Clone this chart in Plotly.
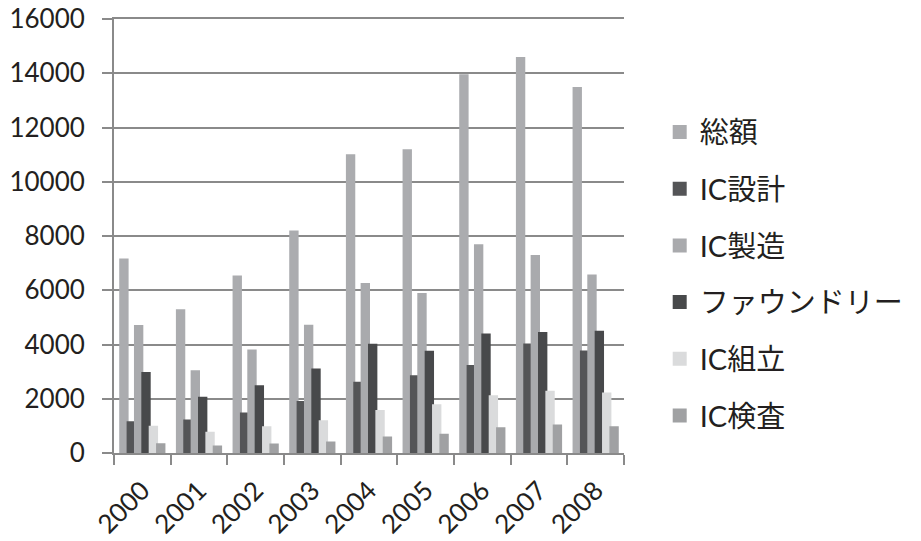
import plotly.graph_objects as go

years = ["2000", "2001", "2002", "2003", "2004", "2005", "2006", "2007", "2008"]

total = [7130, 5260, 6510, 8170, 10980, 11160, 13930, 14560, 13460]
ic_design = [1130, 1200, 1460, 1880, 2590, 2830, 3210, 4000, 3740]
ic_manufacturing = [4680, 3010, 3780, 4690, 6230, 5860, 7660, 7260, 6540]
foundry = [2950, 2040, 2460, 3080, 3990, 3730, 4370, 4420, 4470]
ic_assembly = [970, 750, 950, 1170, 1550, 1760, 2090, 2260, 2190]
ic_testing = [320, 240, 310, 390, 570, 670, 910, 1010, 950]

series = [
    ("総額", total, "#abacaf"),
    ("IC設計", ic_design, "#545557"),
    ("IC製造", ic_manufacturing, "#a9aaad"),
    ("ファウンドリー", foundry, "#48494b"),
    ("IC組立", ic_assembly, "#dadbdc"),
    ("IC検査", ic_testing, "#a0a1a3"),
]

fig = go.Figure()
for name, values, color in series:
    fig.add_trace(go.Bar(
        x=years,
        y=values,
        name=name,
        legendgroup=name,
        marker=dict(color=color, line=dict(color=color, width=2)),
    ))

axis_color = "#8a8a8a"
font_family = "Lato, Noto Sans CJK JP, sans-serif"

fig.update_layout(
    width=921,
    height=541,
    margin=dict(l=114, r=294, t=19, b=88),
    paper_bgcolor="white",
    plot_bgcolor="white",
    barmode="group",
    bargap=0.22,
    bargroupgap=0,
    font=dict(family=font_family, size=25, color="#231f20"),
    showlegend=True,
    legend=dict(
        x=1.07,
        xanchor="left",
        y=0.798,
        yanchor="top",
        font=dict(family=font_family, size=29, color="#231f20"),
        tracegroupgap=16,
        bgcolor="rgba(0,0,0,0)",
    ),
    xaxis=dict(
        type="category",
        automargin=False,
        showline=True,
        mirror=True,
        linecolor=axis_color,
        linewidth=2,
        ticks="outside",
        tickson="boundaries",
        ticklen=10,
        tickwidth=2,
        tickcolor=axis_color,
        tickangle=-45,
        ticklabelstandoff=10,
        showgrid=False,
        tickfont=dict(size=26),
    ),
    yaxis=dict(
        automargin=False,
        range=[0, 16000],
        dtick=2000,
        tickformat="d",
        showline=True,
        linecolor=axis_color,
        linewidth=2,
        ticks="outside",
        ticklen=10,
        tickwidth=2,
        tickcolor=axis_color,
        showgrid=True,
        gridcolor=axis_color,
        gridwidth=2,
        zeroline=False,
        ticklabelstandoff=12,
        tickfont=dict(size=26),
    ),
)

fig.write_html("out.html")
